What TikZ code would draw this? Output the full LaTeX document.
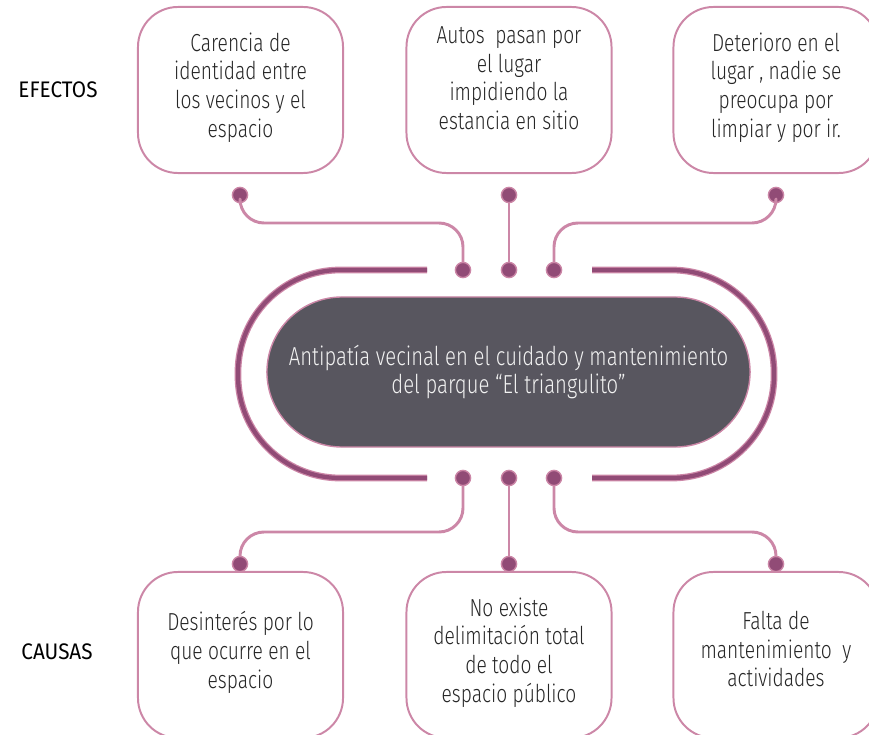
\documentclass[tikz,border=0pt]{standalone}
\usepackage{fontspec}
\setmainfont{Fira Sans Light}[FakeStretch=0.78]
\newfontfamily\etiqfont{Fira Sans}[FakeStretch=0.92]
\definecolor{rosa}{HTML}{CC87A7}
\definecolor{vino}{HTML}{914B76}
\definecolor{gris}{HTML}{58565F}
\tikzset{
	caja/.style={draw=rosa,line width=1.4pt,rounded corners=1cm,minimum width=5.125cm,minimum height=4.15cm,align=center,text=black!85,font=\fontsize{17.5}{20.5}\selectfont},
	centro/.style={fill=gris,draw=rosa,line width=1pt,rounded corners=1.875cm,minimum width=12.075cm,minimum height=3.75cm,align=center,text=white!95!black,font=\fontsize{18.5}{20}\selectfont},
	punto/.style={circle,fill=vino,draw=rosa,line width=1pt,minimum size=0.38cm,inner sep=0pt},
	enlace/.style={draw=rosa,line width=2.1pt,rounded corners=0.6cm},
	anillo/.style={draw=rosa,line width=0.9pt,double=vino,double distance=3pt,line cap=butt,rounded corners=2.55cm},
	etiq/.style={font=\etiqfont\fontsize{16}{18}\selectfont}
}
\begin{document}
\begin{tikzpicture}[x=0.025cm,y=-0.025cm,line join=round,line cap=round]
				\useasboundingbox (0,0) rectangle (869,735);
				\path
				(0,223) coordinate (ytop)
				(0,532) coordinate (ybot)
				;
				% efectos
				\node[caja,text depth=0.25cm] (e1) at (240.5,90) {Carencia de\\identidad entre\\los vecinos y el\\espacio};
				\node[caja,text depth=0.6cm] (e2) at (509,90) {Autos~ pasan por\\el lugar\\impidiendo la\\estancia en sitio};
				\node[caja,text depth=0.25cm] (e3) at (776,90) {Deterioro en el\\lugar , nadie se\\preocupa por\\limpiar y por ir.};
				% causas
				\node[caja,text depth=0.25cm] (c1) at (240.5,655) {Desinterés por lo\\que ocurre en el\\espacio};
				\node[caja,text depth=0.25cm] (c2) at (509,655) {No existe\\delimitación total\\de todo el\\espacio público};
				\node[caja,text depth=0.3cm] (c3) at (776,655) {Falta de\\mantenimiento~ y\\actividades};
				\node[etiq] (ef) at (58,90) {EFECTOS};
				\node[etiq] (ca) at (57,652) {CAUSAS};
				% problema
				\node[centro] (prob) at (508.5,372) {Antipatía vecinal en el cuidado y mantenimiento\\del parque “El triangulito”};
				\draw[anillo]
				(427,270) -- (238,270) -- (238,478) -- (427,478)
				(592,270) -- (774,270) -- (774,478) -- (592,478)
				;
				\foreach \n/\x/\y in {s1/240/195,s2/509/195,s3/776/195,r1/463/270,r2/509/270,r3/554/270,r4/463/478,r5/509/478,r6/554/478,i1/240/564,i2/509/564,i3/776/564}
				\node[punto] (\n) at (\x,\y) {};
				\draw[enlace] (s1) |- (ytop -| r1) -- (r1);
				\draw[enlace] (s2) -- (r2);
				\draw[enlace] (s3) |- (ytop -| r3) -- (r3);
				\draw[enlace] (r4) |- (ybot -| i1) -- (i1);
				\draw[enlace] (r5) -- (i2);
				\draw[enlace] (r6) |- (ybot -| i3) -- (i3);
			\end{tikzpicture}
\end{document}
